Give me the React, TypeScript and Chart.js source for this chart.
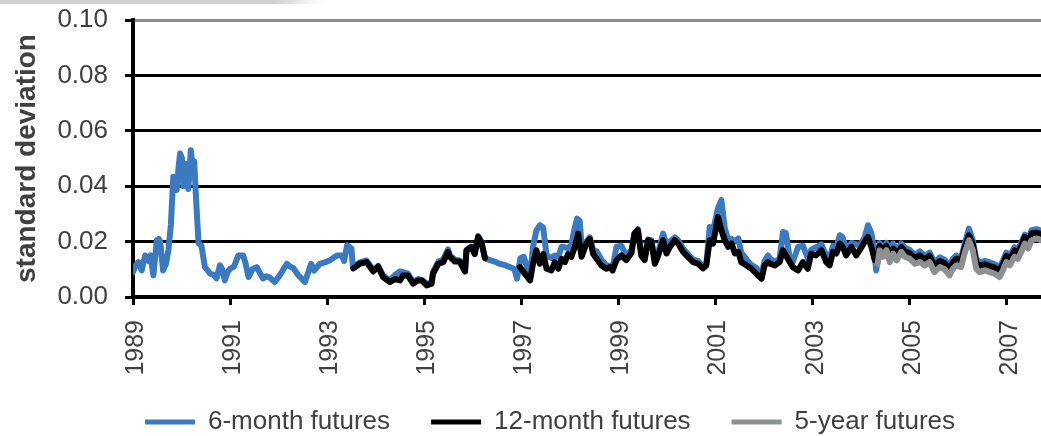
import { useEffect, useRef } from "react";
import { Chart, registerables } from "chart.js";

Chart.register(...registerables);

const yearTicks = [1989, 1991, 1993, 1995, 1997, 1999, 2001, 2003, 2005, 2007];
const seriesNames = ["6-month futures", "12-month futures", "5-year futures"];

const sixMonthYears = [
  1989.00, 1989.06, 1989.11, 1989.18, 1989.25, 1989.32, 1989.36, 1989.42, 1989.49, 1989.53,
  1989.56, 1989.62, 1989.68, 1989.73, 1989.78, 1989.83, 1989.87, 1989.90, 1989.94, 1989.97,
  1990.01, 1990.04, 1990.09, 1990.14, 1990.19, 1990.23, 1990.26, 1990.31, 1990.35, 1990.41,
  1990.48, 1990.54, 1990.59, 1990.66, 1990.72, 1990.79, 1990.84, 1990.89, 1990.95, 1991.00,
  1991.08, 1991.17, 1991.27, 1991.32, 1991.38, 1991.46, 1991.55, 1991.62, 1991.68, 1991.75,
  1991.82, 1991.92, 1992.03, 1992.10, 1992.17, 1992.23, 1992.30, 1992.40, 1992.54, 1992.60,
  1992.67, 1992.73, 1992.85, 1992.95, 1993.06, 1993.20, 1993.30, 1993.35, 1993.41, 1993.50,
  1993.53, 1993.67, 1993.81, 1993.95, 1994.05, 1994.15, 1994.29, 1994.40, 1994.50, 1994.56,
  1994.66, 1994.77, 1994.87, 1994.95, 1995.05, 1995.15, 1995.18, 1995.29, 1995.39, 1995.49,
  1995.53, 1995.63, 1995.73, 1995.84, 1995.87, 1995.97, 1996.04, 1996.11, 1996.18, 1996.25,
  1996.35, 1996.45, 1996.55, 1996.66, 1996.76, 1996.86, 1996.91, 1996.98, 1997.05, 1997.12,
  1997.18, 1997.24, 1997.31, 1997.38, 1997.45, 1997.52, 1997.62, 1997.69, 1997.76, 1997.83,
  1997.90, 1997.96, 1998.03, 1998.10, 1998.15, 1998.20, 1998.24, 1998.34, 1998.41, 1998.48,
  1998.55, 1998.65, 1998.75, 1998.82, 1998.88, 1998.96, 1999.06, 1999.16, 1999.27, 1999.33,
  1999.40, 1999.47, 1999.54, 1999.61, 1999.68, 1999.75, 1999.81, 1999.92, 1999.99, 2000.06,
  2000.16, 2000.23, 2000.33, 2000.43, 2000.54, 2000.64, 2000.74, 2000.81, 2000.88, 2000.95,
  2001.05, 2001.12, 2001.19, 2001.26, 2001.33, 2001.40, 2001.47, 2001.53, 2001.64, 2001.74,
  2001.84, 2001.95, 2002.01, 2002.08, 2002.12, 2002.22, 2002.32, 2002.39, 2002.45, 2002.52,
  2002.59, 2002.70, 2002.80, 2002.90, 2002.97, 2003.07, 2003.18, 2003.28, 2003.35, 2003.42,
  2003.49, 2003.56, 2003.62, 2003.69, 2003.80, 2003.90, 2003.97, 2004.07, 2004.14, 2004.21,
  2004.28, 2004.31, 2004.38, 2004.45, 2004.52, 2004.59, 2004.66, 2004.73, 2004.83, 2004.90,
  2005.00, 2005.11, 2005.21, 2005.31, 2005.41, 2005.51, 2005.62, 2005.72, 2005.82, 2005.89,
  2005.96, 2006.06, 2006.13, 2006.22, 2006.30, 2006.37, 2006.44, 2006.55, 2006.65, 2006.75,
  2006.85, 2006.92, 2006.99, 2007.06, 2007.16, 2007.23, 2007.30, 2007.37, 2007.44, 2007.51,
  2007.61, 2007.70, 2007.78,
];
const sixMonthValues = [
  0.0090, 0.0115, 0.0126, 0.0096, 0.0150, 0.0130, 0.0150, 0.0078, 0.0205, 0.0210,
  0.0200, 0.0096, 0.0120, 0.0170, 0.0260, 0.0434, 0.0420, 0.0386, 0.0470, 0.0518,
  0.0500, 0.0400, 0.0480, 0.0390, 0.0530, 0.0470, 0.0490, 0.0320, 0.0194, 0.0185,
  0.0108, 0.0095, 0.0084, 0.0080, 0.0067, 0.0114, 0.0100, 0.0060, 0.0090, 0.0102,
  0.0110, 0.0150, 0.0150, 0.0120, 0.0072, 0.0100, 0.0108, 0.0085, 0.0067, 0.0075,
  0.0070, 0.0054, 0.0080, 0.0100, 0.0120, 0.0110, 0.0105, 0.0080, 0.0054, 0.0084,
  0.0120, 0.0095, 0.0120, 0.0125, 0.0133, 0.0150, 0.0150, 0.0130, 0.0187, 0.0175,
  0.0108, 0.0125, 0.0132, 0.0098, 0.0112, 0.0078, 0.0060, 0.0080, 0.0092, 0.0090,
  0.0085, 0.0055, 0.0065, 0.0062, 0.0048, 0.0052, 0.0090, 0.0128, 0.0135, 0.0172,
  0.0150, 0.0135, 0.0132, 0.0100, 0.0170, 0.0182, 0.0160, 0.0220, 0.0200, 0.0140,
  0.0133, 0.0128, 0.0120, 0.0115, 0.0108, 0.0100, 0.0066, 0.0140, 0.0145, 0.0105,
  0.0080, 0.0180, 0.0240, 0.0259, 0.0250, 0.0150, 0.0140, 0.0150, 0.0145, 0.0181,
  0.0180, 0.0175, 0.0190, 0.0250, 0.0283, 0.0275, 0.0190, 0.0200, 0.0215, 0.0170,
  0.0165, 0.0135, 0.0115, 0.0112, 0.0105, 0.0182, 0.0185, 0.0150, 0.0170, 0.0230,
  0.0245, 0.0160, 0.0140, 0.0208, 0.0205, 0.0130, 0.0155, 0.0229, 0.0190, 0.0200,
  0.0215, 0.0205, 0.0175, 0.0155, 0.0135, 0.0130, 0.0110, 0.0120, 0.0253, 0.0240,
  0.0320, 0.0350, 0.0250, 0.0205, 0.0210, 0.0200, 0.0211, 0.0160, 0.0135, 0.0115,
  0.0105, 0.0080, 0.0130, 0.0150, 0.0140, 0.0125, 0.0140, 0.0235, 0.0230, 0.0150,
  0.0125, 0.0181, 0.0185, 0.0140, 0.0170, 0.0180, 0.0190, 0.0150, 0.0140, 0.0185,
  0.0180, 0.0223, 0.0215, 0.0170, 0.0195, 0.0190, 0.0185, 0.0215, 0.0259, 0.0230,
  0.0150, 0.0096, 0.0195, 0.0178, 0.0195, 0.0165, 0.0193, 0.0168, 0.0193, 0.0178,
  0.0170, 0.0152, 0.0165, 0.0148, 0.0160, 0.0125, 0.0143, 0.0135, 0.0112, 0.0138,
  0.0150, 0.0142, 0.0190, 0.0247, 0.0205, 0.0138, 0.0125, 0.0130, 0.0125, 0.0118,
  0.0108, 0.0130, 0.0160, 0.0148, 0.0180, 0.0172, 0.0197, 0.0225, 0.0212, 0.0241,
  0.0245, 0.0240, 0.0236,
];

const twelveMonthYears = [
  1993.54, 1993.67, 1993.81, 1993.95, 1994.05, 1994.15, 1994.29, 1994.40, 1994.50, 1994.56,
  1994.66, 1994.77, 1994.87, 1994.95, 1995.05, 1995.15, 1995.18, 1995.29, 1995.39, 1995.49,
  1995.53, 1995.63, 1995.73, 1995.84, 1995.87, 1995.97, 1996.04, 1996.11, 1996.18, 1996.25,
  1996.60,
  1996.97, 1997.07, 1997.18, 1997.24, 1997.31, 1997.38, 1997.45, 1997.52, 1997.62, 1997.69,
  1997.76, 1997.83, 1997.90, 1997.96, 1998.03, 1998.10, 1998.17, 1998.24, 1998.34, 1998.41,
  1998.48, 1998.55, 1998.65, 1998.75, 1998.82, 1998.88, 1998.96, 1999.06, 1999.16, 1999.27,
  1999.33, 1999.40, 1999.47, 1999.54, 1999.61, 1999.68, 1999.75, 1999.81, 1999.92, 1999.99,
  2000.06, 2000.16, 2000.23, 2000.33, 2000.43, 2000.54, 2000.64, 2000.74, 2000.81, 2000.88,
  2000.95, 2001.05, 2001.12, 2001.19, 2001.26, 2001.33, 2001.40, 2001.47, 2001.53, 2001.64,
  2001.74, 2001.84, 2001.95, 2002.01, 2002.08, 2002.12, 2002.22, 2002.32, 2002.39, 2002.49,
  2002.59, 2002.70, 2002.80, 2002.90, 2002.97, 2003.07, 2003.18, 2003.28, 2003.35, 2003.42,
  2003.49, 2003.56, 2003.62, 2003.69, 2003.80, 2003.90, 2003.97, 2004.07, 2004.14, 2004.21,
  2004.28, 2004.34, 2004.38, 2004.45, 2004.52, 2004.59, 2004.66, 2004.73, 2004.83, 2004.90,
  2005.00, 2005.11, 2005.21, 2005.31, 2005.41, 2005.51, 2005.62, 2005.72, 2005.82, 2005.89,
  2005.96, 2006.06, 2006.13, 2006.22, 2006.30, 2006.37, 2006.44, 2006.55, 2006.65, 2006.75,
  2006.85, 2006.92, 2006.99, 2007.06, 2007.16, 2007.23, 2007.30, 2007.37, 2007.44, 2007.51,
  2007.61, 2007.70, 2007.78,
];
const twelveMonthValues = [
  0.0103, 0.0120, 0.0126, 0.0092, 0.0110, 0.0072, 0.0054, 0.0065, 0.0060, 0.0078,
  0.0078, 0.0048, 0.0060, 0.0060, 0.0042, 0.0048, 0.0084, 0.0120, 0.0126, 0.0163,
  0.0145, 0.0128, 0.0128, 0.0092, 0.0169, 0.0180, 0.0155, 0.0217, 0.0195, 0.0140,
  null,
  0.0108, 0.0084, 0.0060, 0.0120, 0.0169, 0.0120, 0.0155, 0.0102, 0.0096, 0.0126,
  0.0102, 0.0138, 0.0126, 0.0155, 0.0145, 0.0180, 0.0229, 0.0145, 0.0193, 0.0210,
  0.0155, 0.0138, 0.0114, 0.0102, 0.0108, 0.0096, 0.0133, 0.0150, 0.0133, 0.0160,
  0.0229, 0.0241, 0.0150, 0.0133, 0.0205, 0.0199, 0.0120, 0.0145, 0.0205, 0.0157,
  0.0181, 0.0205, 0.0193, 0.0163, 0.0145, 0.0126, 0.0120, 0.0103, 0.0114, 0.0205,
  0.0193, 0.0289, 0.0241, 0.0205, 0.0181, 0.0193, 0.0157, 0.0163, 0.0126, 0.0114,
  0.0102, 0.0084, 0.0066, 0.0114, 0.0126, 0.0120, 0.0114, 0.0126, 0.0169, 0.0138,
  0.0108, 0.0096, 0.0126, 0.0102, 0.0156, 0.0150, 0.0169, 0.0126, 0.0114, 0.0163,
  0.0157, 0.0193, 0.0181, 0.0150, 0.0181, 0.0150, 0.0169, 0.0199, 0.0217, 0.0181,
  0.0133, 0.0138, 0.0185, 0.0165, 0.0185, 0.0150, 0.0175, 0.0155, 0.0180, 0.0165,
  0.0158, 0.0140, 0.0150, 0.0135, 0.0148, 0.0112, 0.0130, 0.0122, 0.0100, 0.0125,
  0.0138, 0.0130, 0.0178, 0.0223, 0.0190, 0.0125, 0.0112, 0.0118, 0.0112, 0.0106,
  0.0096, 0.0118, 0.0148, 0.0135, 0.0168, 0.0160, 0.0185, 0.0217, 0.0200, 0.0229,
  0.0232, 0.0228, 0.0225,
];

const fiveYearYears = [
  2004.34, 2004.38, 2004.45, 2004.52, 2004.59, 2004.66, 2004.73, 2004.83, 2004.90, 2005.00,
  2005.11, 2005.21, 2005.31, 2005.41, 2005.51, 2005.62, 2005.72, 2005.82, 2005.89, 2005.96,
  2006.06, 2006.13, 2006.22, 2006.30, 2006.37, 2006.44, 2006.55, 2006.65, 2006.75, 2006.85,
  2006.92, 2006.99, 2007.06, 2007.16, 2007.23, 2007.30, 2007.37, 2007.44, 2007.51, 2007.61,
  2007.70, 2007.78,
];
const fiveYearValues = [
  0.0120, 0.0169, 0.0145, 0.0169, 0.0126, 0.0157, 0.0132, 0.0163, 0.0145, 0.0138,
  0.0120, 0.0126, 0.0114, 0.0126, 0.0090, 0.0108, 0.0100, 0.0078, 0.0102, 0.0114,
  0.0108, 0.0157, 0.0205, 0.0169, 0.0102, 0.0090, 0.0096, 0.0090, 0.0084, 0.0072,
  0.0096, 0.0126, 0.0114, 0.0145, 0.0138, 0.0163, 0.0193, 0.0175, 0.0205, 0.0211,
  0.0205, 0.0200,
];

const FONT = "'Liberation Sans', Arial, Helvetica, sans-serif";
const TEXT = "#404040";

function toPoints(xs: number[], ys: (number | null)[]) {
  return xs.map((x, i) => ({ x, y: ys[i] }));
}

export default function App() {
  const ref = useRef<HTMLCanvasElement | null>(null);

  useEffect(() => {
    const canvas = ref.current;
    if (!canvas) return;
    Chart.defaults.font.family = FONT;
    const lineDefaults = {
      borderWidth: 6,
      pointRadius: 0,
      pointHoverRadius: 0,
      tension: 0,
      fill: false,
      borderJoinStyle: "round" as const,
      borderCapStyle: "round" as const,
      spanGaps: false,
    };
    const chart = new Chart(canvas, {
      type: "line",
      data: {
        datasets: [
          {
            ...lineDefaults,
            label: seriesNames[0],
            data: toPoints(sixMonthYears, sixMonthValues),
            borderColor: "#3A7AC0",
            backgroundColor: "#3A7AC0",
            order: 3,
          },
          {
            ...lineDefaults,
            label: seriesNames[1],
            data: toPoints(twelveMonthYears, twelveMonthValues),
            borderColor: "#000000",
            backgroundColor: "#000000",
            order: 2,
          },
          {
            ...lineDefaults,
            label: seriesNames[2],
            data: toPoints(fiveYearYears, fiveYearValues),
            borderColor: "#8E8F91",
            backgroundColor: "#8E8F91",
            order: 1,
          },
        ],
      },
      options: {
        responsive: false,
        animation: false,
        events: [],
        layout: { padding: { top: 20, left: 0, right: 0, bottom: 0 } },
        plugins: {
          tooltip: { enabled: false },
          legend: {
            position: "bottom",
            labels: {
              boxWidth: 50,
              boxHeight: 5,
              padding: 41,
              color: TEXT,
              font: { family: FONT, size: 26 },
              sort: (a: any, b: any) => a.datasetIndex - b.datasetIndex,
              generateLabels: (c: any) =>
                (Chart.defaults.plugins.legend.labels as any)
                  .generateLabels(c)
                  .map((l: any) => ({ ...l, lineWidth: 0, fillStyle: l.strokeStyle })),
            },
          },
        },
        scales: {
          x: {
            type: "linear",
            min: 1989,
            max: 2008.92,
            afterBuildTicks: (s: any) => {
              s.ticks = yearTicks.map((v) => ({ value: v }));
            },
            afterFit: (s: any) => {
              s.height = 71;
              // let the rotated year labels extend below the axis box without clipping
              s._computeLabelArea = () => null;
            },
            grid: {
              drawOnChartArea: false,
              drawTicks: true,
              tickLength: 8,
              tickWidth: 3,
              tickColor: "#000",
            },
            border: { display: true, color: "#000", width: 4 },
            ticks: {
              autoSkip: false,
              minRotation: 90,
              maxRotation: 90,
              padding: 15,
              labelOffset: 3,
              color: TEXT,
              font: { family: FONT, size: 25 },
              callback: (v: any) => String(v),
            },
          },
          y: {
            min: 0,
            max: 0.1,
            afterFit: (s: any) => {
              s.width = 133;
              s.paddingTop = 0;
              s.paddingBottom = 0;
            },
            ticks: {
              stepSize: 0.02,
              padding: 17,
              color: TEXT,
              font: { family: FONT, size: 26 },
              callback: (v: any) => Number(v).toFixed(2),
            },
            grid: {
              color: (ctx: any) => (ctx.tick && ctx.tick.value > 0.099 ? "#8C8D90" : "#000"),
              lineWidth: 3,
              drawTicks: true,
              tickLength: 8,
              tickWidth: 3,
              tickColor: "#000",
            },
            border: { display: true, color: "#000", width: 4 },
            title: {
              display: true,
              text: "standard deviation",
              color: TEXT,
              font: { family: FONT, size: 28, weight: "bold" },
              padding: { top: 10, bottom: 0 },
            },
          },
        },
      },
    } as any);
    return () => chart.destroy();
  }, []);

  return (
    <div
      style={{
        position: "fixed",
        left: 0,
        top: 0,
        width: 1041,
        height: 436,
        overflow: "hidden",
        background: "#fff",
      }}
    >
      <canvas ref={ref} width={1100} height={445} style={{ display: "block" }} />
      <div
        style={{
          position: "absolute",
          left: 0,
          top: 0,
          width: 322,
          height: 4,
          background: "linear-gradient(to right, #d0d0d0 85%, rgba(208,208,208,0))",
        }}
      />
    </div>
  );
}
